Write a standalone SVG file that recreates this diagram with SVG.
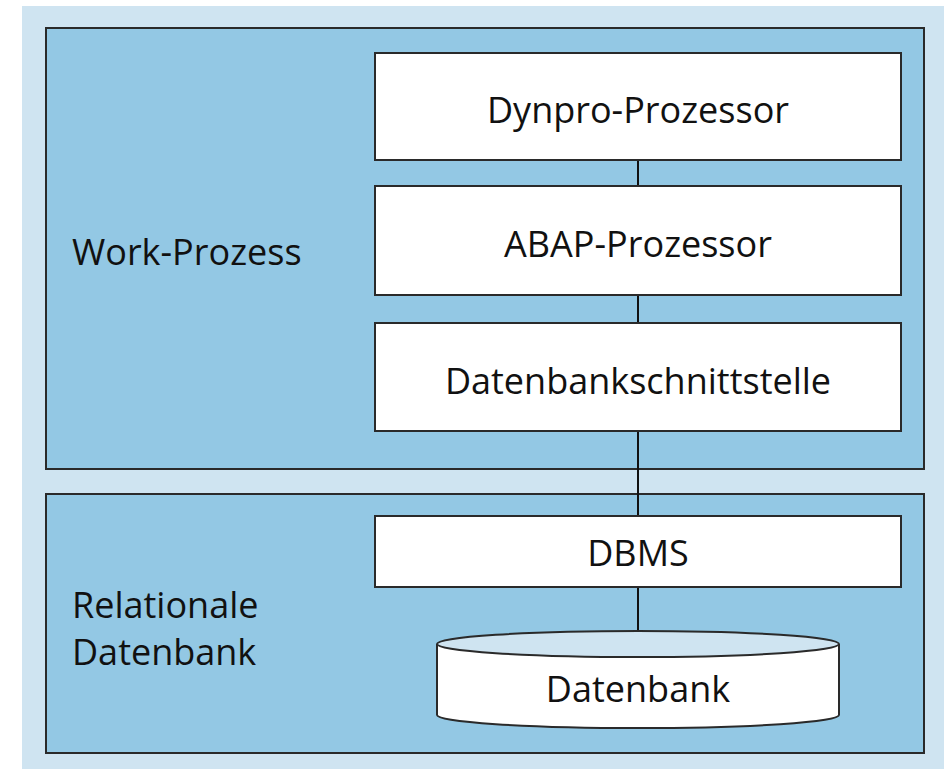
<svg xmlns="http://www.w3.org/2000/svg" width="952" height="769" viewBox="0 0 952 769">
<style>
.bg{fill:#cfe4f1}
.panel{fill:#93c8e4;stroke:#2a2a2a;stroke-width:2}
.box{fill:#ffffff;stroke:#2a2a2a;stroke-width:2}
.lbl{font-family:"Open Sans","Noto Sans",sans-serif;font-size:36px;fill:#111}
.c{text-anchor:middle}
.conn{stroke:#111;stroke-width:2;fill:none}
</style>
<rect x="0" y="0" width="952" height="769" fill="#ffffff"/>
<rect class="bg" x="22" y="6" width="922" height="763"/>
<g id="work-prozess">
<rect class="panel" x="46" y="28" width="878" height="441"/>
<text class="lbl" x="72" y="265">Work-Prozess</text>
</g>
<g id="relationale-datenbank">
<rect class="panel" x="46" y="494" width="878" height="259"/>
<text class="lbl" x="72" y="618">Relationale</text>
<text class="lbl" x="72" y="665">Datenbank</text>
</g>
<g id="connectors">
<line class="conn" x1="638" y1="160" x2="638" y2="186"/>
<line class="conn" x1="638" y1="295" x2="638" y2="323"/>
<line class="conn" x1="638" y1="431" x2="638" y2="516"/>
<line class="conn" x1="638" y1="587" x2="638" y2="631"/>
</g>
<g id="dynpro">
<rect class="box" x="375" y="53" width="526" height="107"/>
<text class="lbl c" x="638" y="123">Dynpro-Prozessor</text>
</g>
<g id="abap">
<rect class="box" x="375" y="186" width="526" height="109"/>
<text class="lbl c" x="638" y="257">ABAP-Prozessor</text>
</g>
<g id="dbschnittstelle">
<rect class="box" x="375" y="323" width="526" height="108"/>
<text class="lbl c" x="638" y="394">Datenbankschnittstelle</text>
</g>
<g id="dbms">
<rect class="box" x="375" y="516" width="526" height="71"/>
<text class="lbl c" x="638" y="566">DBMS</text>
</g>
<g id="datenbank">
<path class="box" d="M437 644 L437 715 A201 13 0 0 0 839 715 L839 644"/>
<ellipse cx="638" cy="644" rx="201" ry="13" fill="#cfe4f1" stroke="#2a2a2a" stroke-width="2"/>
<text class="lbl c" x="638" y="702">Datenbank</text>
</g>
</svg>
